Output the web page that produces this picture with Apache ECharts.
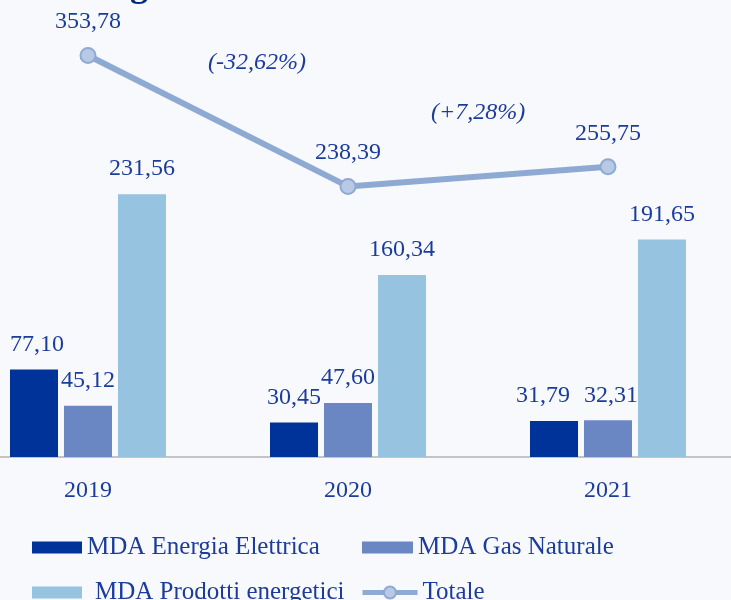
<!DOCTYPE html>
<html>
<head>
<meta charset="utf-8">
<script src="https://cdn.jsdelivr.net/npm/echarts@6/dist/echarts.min.js"></script>
<style>
  html, body { margin: 0; padding: 0; background: #f8f9fc; }
  #main { width: 731px; height: 600px; }
</style>
</head>
<body>
<div id="main"></div>
<script>
// dati
var anni = ['2019', '2020', '2021'];
var energiaElettrica = [77.10, 30.45, 31.79];
var gasNaturale = [45.12, 47.60, 32.31];
var prodottiEnergetici = [231.56, 160.34, 191.65];
var totale = [353.78, 238.39, 255.75];
var variazioni = ['(-32,62%)', '(+7,28%)'];

var testo = '#1c3c9c';
var font = '"Liberation Serif", "DejaVu Serif", serif';

function fmt(p) {
  return p.value.toFixed(2).replace('.', ',');
}

var labelBar = {
  show: true,
  position: 'top',
  distance: 13,
  color: testo,
  fontFamily: font,
  fontSize: 24,
  formatter: fmt
};

// etichette un po' spostate come nell'originale
var datiElettrica = energiaElettrica.map(function (v, i) {
  if (i === 0) return { value: v, label: { offset: [3, 0] } };
  if (i === 2) return { value: v, label: { offset: [-11, 0] } };
  return v;
});
var datiGas = gasNaturale.map(function (v, i) {
  if (i === 2) return { value: v, label: { offset: [3, 0] } };
  return v;
});

var legendText = { color: testo, fontFamily: font, fontSize: 25 };

var myChart = echarts.init(document.getElementById('main'));

myChart.setOption({
  backgroundColor: '#f8f9fc',
  textStyle: { fontFamily: font },
  grid: {
    left: -42,
    width: 780,
    top: 3,
    bottom: 143,
    outerBoundsMode: 'none',
    containLabel: false
  },
  legend: [
    {
      data: [{ name: 'MDA Energia Elettrica', icon: 'rect' }],
      left: 27, top: 530,
      itemWidth: 50, itemHeight: 12, itemGap: 7,
      textStyle: legendText
    },
    {
      data: [{ name: 'MDA Gas Naturale', icon: 'rect' }],
      left: 357, top: 530,
      itemWidth: 51, itemHeight: 12,
      textStyle: legendText
    },
    {
      data: [{ name: 'MDA Prodotti energetici', icon: 'rect' }],
      left: 27, top: 575,
      itemWidth: 50, itemHeight: 12,
      textStyle: Object.assign({ padding: [0, 0, 0, 8] }, legendText)
    },
    {
      data: ['Totale'],
      left: 355, top: 575,
      itemWidth: 55, itemHeight: 15,
      lineStyle: { width: 5 },
      textStyle: legendText
    }
  ],
  xAxis: {
    type: 'category',
    data: anni,
    axisLine: { lineStyle: { color: '#c4c4c4', width: 2 } },
    axisTick: { show: false },
    axisLabel: {
      color: testo,
      fontFamily: font,
      fontSize: 24,
      margin: 22
    }
  },
  yAxis: {
    type: 'value',
    min: 0,
    max: 400,
    show: false,
    splitLine: { show: false }
  },
  graphic: [
    {
      type: 'text',
      left: 130, top: -31,
      style: { text: 'g', fill: '#002a80', font: 'bold 36px ' + font }
    },
    {
      type: 'text',
      left: 208, top: 51,
      style: { text: variazioni[0], fill: testo, font: 'italic 24px ' + font }
    },
    {
      type: 'text',
      left: 431, top: 101,
      style: { text: variazioni[1], fill: testo, font: 'italic 24px ' + font }
    }
  ],
  series: [
    {
      name: 'MDA Energia Elettrica',
      type: 'bar',
      data: datiElettrica,
      barWidth: 48,
      barGap: '12.5%',
      itemStyle: { color: '#003399' },
      label: labelBar
    },
    {
      name: 'MDA Gas Naturale',
      type: 'bar',
      data: datiGas,
      barWidth: 48,
      barGap: '12.5%',
      itemStyle: { color: '#6a87c4' },
      label: labelBar
    },
    {
      name: 'MDA Prodotti energetici',
      type: 'bar',
      data: prodottiEnergetici,
      barWidth: 48,
      barGap: '12.5%',
      itemStyle: { color: '#96c3e0' },
      label: labelBar
    },
    {
      name: 'Totale',
      type: 'line',
      data: totale,
      symbol: 'circle',
      symbolSize: 15,
      z: 5,
      lineStyle: { color: '#8eaad3', width: 6 },
      itemStyle: { color: '#b7c9e4', borderColor: '#8eaad3', borderWidth: 2 },
      label: {
        show: true,
        position: 'top',
        distance: 13,
        color: testo,
        fontFamily: font,
        fontSize: 24,
        formatter: fmt
      }
    }
  ]
});
</script>
</body>
</html>
